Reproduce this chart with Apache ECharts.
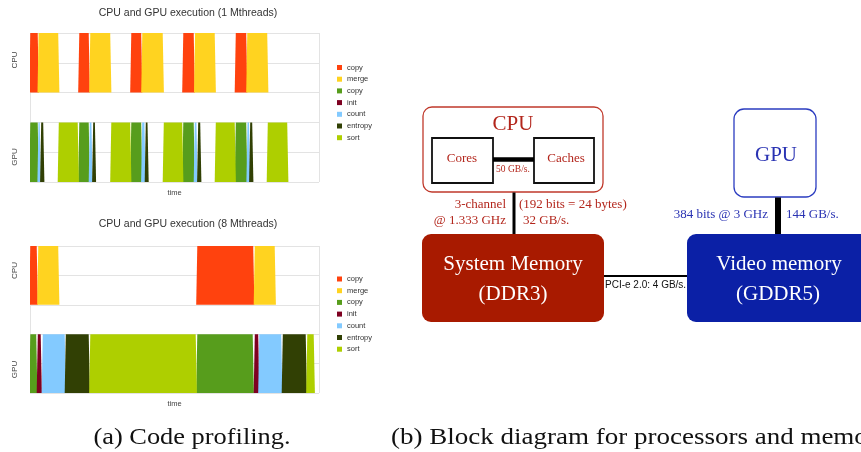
<!DOCTYPE html>
<html><head><meta charset="utf-8">
<script src="https://cdn.jsdelivr.net/npm/echarts@6.0.0/dist/echarts.min.js"></script>
<style>html,body{margin:0;padding:0;background:#fff}#c{width:861px;height:452px}</style>
</head><body><div id="c"></div>
<script>
// ================= DATA =================
const legendLabels = ['copy', 'merge', 'copy', 'init', 'count', 'entropy', 'sort'];
const rowOf = [1, 1, 0, 0, 0, 0, 0]; // 1 = CPU lane, 0 = GPU lane
const timeMax = 289;

// CPU and GPU execution (1 Mthreads): [start, end] in time units
const m1CpuCopy    = [[0, 8], [49, 59], [101, 111.5], [153, 164], [205.5, 216.5]];
const m1CpuMerge   = [[8.3, 28.5], [60, 80.5], [112, 133], [164.8, 185], [217, 237.5]];
const m1GpuCopy    = [[0, 8], [49, 59], [101, 111.5], [153, 164], [205.5, 216.5]];
const m1GpuInit    = [];
const m1GpuCount   = [[8.2, 10], [59.5, 61.7], [111.9, 114.7], [164.5, 166.7], [217.2, 219.3]];
const m1GpuEntropy = [[10.9, 13.5], [62.9, 65.2], [115.5, 117.8], [167.9, 170.5], [219.9, 222.5]];
const m1GpuSort    = [[28.5, 48], [81, 100.5], [133.5, 152.5], [185.5, 205], [237.5, 257.5]];

// CPU and GPU execution (8 Mthreads)
const m8CpuCopy    = [[0, 7], [167, 223.5]];
const m8CpuMerge   = [[8, 28.5], [224.5, 245]];
const m8GpuCopy    = [[0, 6.5], [167, 223]];
const m8GpuInit    = [[7.5, 11], [224.5, 228.5]];
const m8GpuCount   = [[12.5, 35], [229, 251.5]];
const m8GpuEntropy = [[35.5, 59], [252.5, 276]];
const m8GpuSort    = [[60, 166], [277, 284]];

// Block diagram (diagram units)
const boxNames  = ['cpu', 'cores', 'caches', 'sysmem', 'gpu', 'vidmem'];
const boxRects  = [[423, 107, 603, 192], [432, 138, 493, 183], [534, 138, 594, 183],
                   [422, 234, 604, 322], [734, 109, 816, 197], [687, 234, 885, 322]];
const linkNames = ['cores-caches', 'cpu-sysmem', 'pcie', 'gpu-vidmem'];
const linkEnds  = [[493, 159.5, 534, 159.5], [514, 192.5, 514, 234], [604, 276, 687, 276], [778, 197.5, 778, 234]];
const textItems = ['CPU', 'Cores', 'Caches', '50 GB/s.', '3-channel', '@ 1.333 GHz',
                   '(192 bits = 24 bytes)', '32 GB/s.', 'System Memory', '(DDR3)', 'GPU',
                   '384 bits @ 3 GHz', '144 GB/s.', 'Video memory', '(GDDR5)', 'PCI-e 2.0: 4 GB/s.'];
const textAnchors = [[513, 124], [462, 158.5], [566, 158.5], [513, 169.5], [506, 205], [506, 221],
                     [519, 205], [523, 221], [513, 264], [513, 294], [776, 155],
                     [768, 215], [786, 215], [779, 264], [778, 294], [605, 285]];

// ================= STYLES =================
const laneColors = ['#ff420e', '#ffd320', '#579d1c', '#7e0021', '#83caff', '#314004', '#aecf00'];
const RED = '#b3261c', REDFILL = '#a81a00', BLUE = '#2a33b3', BLUEFILL = '#0b20a6';
const boxStyle = {
  cpu:    {fill: '#fff', stroke: '#c0392b', lineWidth: 1.3, r: 9},
  cores:  {fill: '#fff', stroke: '#111', lineWidth: 1.8, r: 0},
  caches: {fill: '#fff', stroke: '#111', lineWidth: 1.8, r: 0},
  sysmem: {fill: REDFILL, stroke: null, lineWidth: 0, r: 9},
  gpu:    {fill: '#fff', stroke: '#2b3cc0', lineWidth: 1.3, r: 10},
  vidmem: {fill: BLUEFILL, stroke: null, lineWidth: 0, r: 9}
};
const linkWidth = {'cores-caches': 4.5, 'cpu-sysmem': 3, 'pcie': 2, 'gpu-vidmem': 6};
const SERIF = '"Liberation Serif", "Times New Roman", serif';
const SANS = '"Liberation Sans", Arial, sans-serif';
const textStyleOf = [
  [RED, '21px', SERIF, 'center'], [RED, '13px', SERIF, 'center'], [RED, '13px', SERIF, 'center'],
  [RED, '9.5px', SERIF, 'center'], [RED, '13px', SERIF, 'right'], [RED, '13px', SERIF, 'right'],
  [RED, '13px', SERIF, 'left'], [RED, '13px', SERIF, 'left'], ['#fff', '21px', SERIF, 'center'],
  ['#fff', '21px', SERIF, 'center'], [BLUE, '21px', SERIF, 'center'],
  [BLUE, '13px', SERIF, 'right'], [BLUE, '13px', SERIF, 'left'], ['#fff', '21px', SERIF, 'center'],
  ['#fff', '21px', SERIF, 'center'], ['#111', '10px', SANS, 'left']
];

// ================= BUILD =================
const chartA = [m1CpuCopy, m1CpuMerge, m1GpuCopy, m1GpuInit, m1GpuCount, m1GpuEntropy, m1GpuSort];
const chartB = [m8CpuCopy, m8CpuMerge, m8GpuCopy, m8GpuInit, m8GpuCount, m8GpuEntropy, m8GpuSort];
const lanePrefix = ['cpu', 'cpu', 'gpu', 'gpu', 'gpu', 'gpu', 'gpu'];

function renderBlock(params, api) {
  const s = api.value(0), e = api.value(1), lane = api.value(2);
  const yTop = lane ? 5 : 2, yBot = lane ? 3 : 0;
  const tl = api.coord([s, yTop]), tr = api.coord([e, yTop]);
  const br = api.coord([e, yBot]), bl = api.coord([s, yBot]);
  return {
    type: 'polygon',
    shape: {points: [[tl[0] + 0.3, tl[1]], [tr[0] - 0.3, tr[1]], [br[0] + 0.9, br[1]], [bl[0] - 0.8, bl[1]]]},
    style: {fill: api.visual('color')}
  };
}

const series = [];
const namesA = [], namesB = [];
[chartA, chartB].forEach((chart, ci) => {
  chart.forEach((blocks, k) => {
    const name = (ci ? 'B' : 'A') + '-' + lanePrefix[k] + '-' + legendLabels[k];
    (ci ? namesB : namesA).push(name);
    series.push({
      type: 'custom', name: name, xAxisIndex: ci, yAxisIndex: ci,
      itemStyle: {color: laneColors[k]},
      encode: {x: [0, 1], y: 2},
      clip: true,
      renderItem: renderBlock,
      data: blocks.map(b => [b[0], b[1], rowOf[k]])
    });
  });
});

// diagram: boxes, links, labels
series.push({
  type: 'custom', name: 'boxes', xAxisIndex: 2, yAxisIndex: 2, clip: false, z: 3,
  data: boxRects,
  renderItem: (params, api) => {
    const a = api.coord([api.value(0), api.value(1)]), b = api.coord([api.value(2), api.value(3)]);
    const st = boxStyle[boxNames[params.dataIndex]];
    return {type: 'rect', shape: {x: a[0], y: a[1], width: b[0] - a[0], height: b[1] - a[1], r: st.r},
            style: {fill: st.fill, stroke: st.stroke, lineWidth: st.lineWidth}};
  }
});
series.push({
  type: 'custom', name: 'links', xAxisIndex: 2, yAxisIndex: 2, clip: false, z: 4,
  data: linkEnds,
  renderItem: (params, api) => {
    const a = api.coord([api.value(0), api.value(1)]), b = api.coord([api.value(2), api.value(3)]);
    return {type: 'line', shape: {x1: a[0], y1: a[1], x2: b[0], y2: b[1]},
            style: {stroke: '#000', lineWidth: linkWidth[linkNames[params.dataIndex]]}};
  }
});
series.push({
  type: 'custom', name: 'labels', xAxisIndex: 2, yAxisIndex: 2, clip: false, z: 5,
  data: textAnchors,
  renderItem: (params, api) => {
    const p = api.coord([api.value(0), api.value(1)]);
    const st = textStyleOf[params.dataIndex];
    return {type: 'text', x: p[0], y: p[1],
            style: {text: textItems[params.dataIndex], fill: st[0], font: st[1] + ' ' + st[2],
                    align: st[3], verticalAlign: 'middle'}};
  }
});

const gridLine = {show: true, lineStyle: {color: '#e3e3e3', width: 1}};
function xAx(gi) {
  return {gridIndex: gi, type: 'value', min: 0, max: timeMax, interval: timeMax,
          axisLabel: {show: false}, axisTick: {show: false}, axisLine: {show: false},
          splitLine: gridLine, name: 'time', nameLocation: 'middle', nameGap: 7,
          nameTextStyle: {fontSize: 7.5, color: '#444', fontFamily: SANS}};
}
function yAx(gi) {
  return {gridIndex: gi, type: 'value', min: 0, max: 5, interval: 1,
          axisLabel: {show: false}, axisTick: {show: false}, axisLine: {show: false}, splitLine: gridLine};
}
function legendFor(names, top) {
  return {orient: 'vertical', left: 337, top: top, itemWidth: 5, itemHeight: 5, itemGap: 2.7,
          icon: 'rect', selectedMode: false, data: names, padding: 0,
          formatter: n => n.split('-')[2],
          textStyle: {fontSize: 7.5, lineHeight: 9, color: '#333', fontFamily: SANS}};
}
function txt(text, x, y, font, color, align, extra) {
  return Object.assign({type: 'text', x: x, y: y,
    style: {text: text, font: font, fill: color, align: align || 'center', verticalAlign: 'middle'}}, extra || {});
}

const option = {
  animation: false,
  backgroundColor: '#fff',
  grid: [
    {left: 30, top: 33, width: 289, height: 149},
    {left: 30, top: 246, width: 289, height: 147},
    {left: 0, top: 0, width: 861, height: 452}
  ],
  xAxis: [xAx(0), xAx(1), {gridIndex: 2, type: 'value', min: 0, max: 861, show: false}],
  yAxis: [yAx(0), yAx(1), {gridIndex: 2, type: 'value', min: 0, max: 452, inverse: true, show: false}],
  legend: [legendFor(namesA, 63), legendFor(namesB, 274.5)],
  graphic: [
    txt('CPU and GPU execution (1 Mthreads)', 188, 13.5, '10.5px ' + SANS, '#333'),
    txt('CPU and GPU execution (8 Mthreads)', 188, 224.5, '10.5px ' + SANS, '#333'),
    txt('CPU', 15, 60, '8px ' + SANS, '#444', 'center', {rotation: Math.PI / 2}),
    txt('GPU', 15, 157, '8px ' + SANS, '#444', 'center', {rotation: Math.PI / 2}),
    txt('CPU', 15, 270.5, '8px ' + SANS, '#444', 'center', {rotation: Math.PI / 2}),
    txt('GPU', 15, 369.5, '8px ' + SANS, '#444', 'center', {rotation: Math.PI / 2}),
    txt('(a) Code profiling.', 192, 438, '24px ' + SERIF, '#111', 'center', {scaleX: 1.1}),
    txt('(b) Block diagram for processors and memory.', 391, 438, '24px ' + SERIF, '#111', 'left', {scaleX: 1.125})
  ],
  series: series
};
const chart = echarts.init(document.getElementById('c'), null, {renderer: 'canvas'});
chart.setOption(option);
</script></body></html>
